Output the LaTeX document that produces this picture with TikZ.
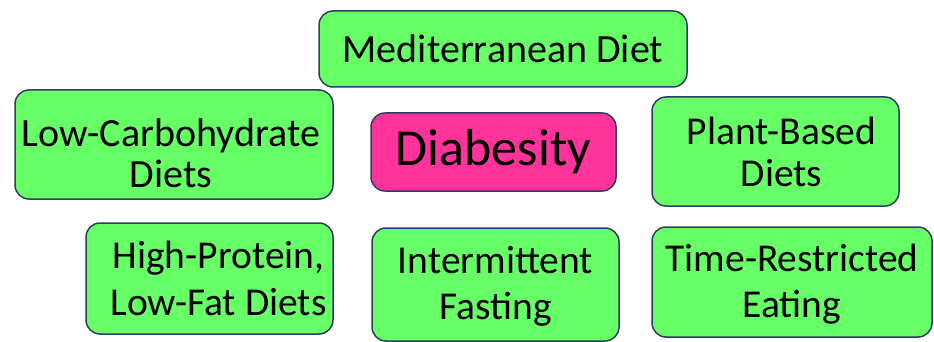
\documentclass[tikz,border=0pt]{standalone}
\usepackage{fontspec}
\setmainfont{Carlito}
\definecolor{dietgreen}{HTML}{66FF66}
\definecolor{hubpink}{HTML}{FF3399}
\definecolor{boxedge}{HTML}{2F3D62}
\tikzset{
  dietbox/.style={draw=boxedge, line width=1.5pt, fill=dietgreen, rounded corners=14pt, inner sep=0pt},
  hubbox/.style={dietbox, fill=hubpink, font=\fontsize{52}{58}\selectfont},
  diettext/.style={align=center, inner sep=0pt, font=\fontsize{39.5}{42}\selectfont},
  diettextwide/.style={diettext, font=\fontsize{39.5}{46.5}\selectfont}
}

\begin{document}
\begin{tikzpicture}[x=1pt,y=-1pt]
     \useasboundingbox (0,0) rectangle (934,342);
     \node[dietbox, minimum width=368pt, minimum height=76pt, font=\fontsize{40}{44}\selectfont] (med) at (503,49) {Mediterranean Diet};
     \node[dietbox, minimum width=318pt, minimum height=109pt,
       label={[diettext, font=\fontsize{40}{41}\selectfont, xshift=-3pt, yshift=-9pt]center:{Low-Carbohydrate\\Diets}}] (lowcarb) at (174,144.5) {};
     \node[hubbox, minimum width=245pt, minimum height=78pt] (diab) at (493.5,152) {Diabesity};
     \node[dietbox, minimum width=247pt, minimum height=109pt,
       label={[diettext, xshift=6pt]center:{Plant-Based\\Diets}}] (plant) at (775.5,151.5) {};
     \node[dietbox, minimum width=247pt, minimum height=111pt,
       label={[diettextwide, xshift=9pt]center:{High-Protein,\\Low-Fat Diets}}] (highprot) at (209.5,278.5) {};
     \node[dietbox, minimum width=247pt, minimum height=113pt,
       label={[diettextwide, yshift=-2pt]center:{Intermittent\\Fasting}}] (fasting) at (495.5,284.5) {};
     \node[dietbox, minimum width=280pt, minimum height=110pt,
       label={[diettextwide, yshift=-2pt]center:{Time-Restricted\\Eating}}] (timerestr) at (792,282) {};
\end{tikzpicture}
\end{document}
